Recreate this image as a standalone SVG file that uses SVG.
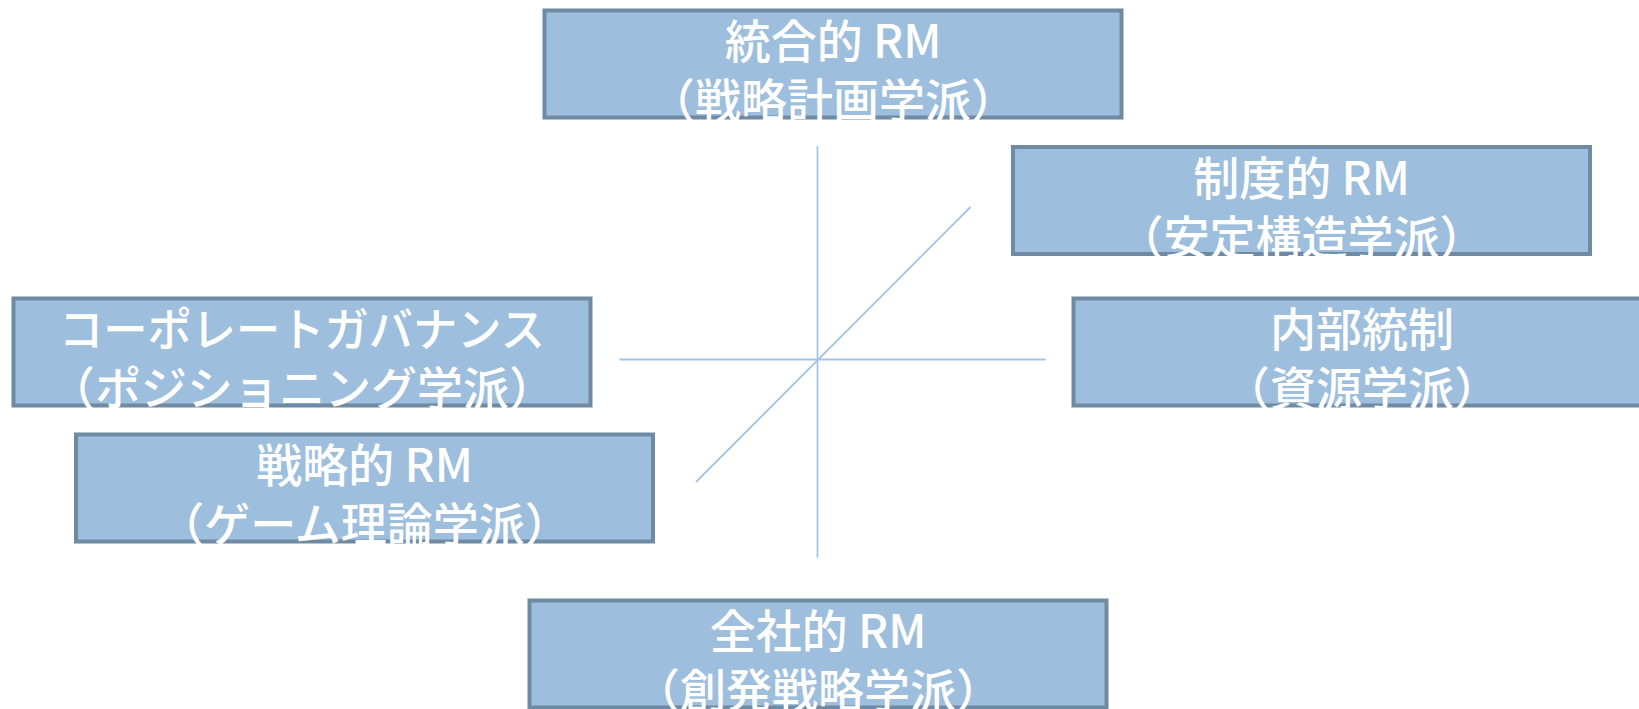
<svg xmlns="http://www.w3.org/2000/svg" width="1639" height="709" viewBox="0 0 1639 709">
<style>
.box{fill:#9dbedc;stroke:#6f8aa3;stroke-width:4}
.t{fill:#ffffff;font-family:"Noto Sans CJK JP","Noto Sans CJK SC",sans-serif;font-size:46px;font-weight:500;text-anchor:middle}
.ln{stroke:#a3c5e5;stroke-width:1.8;fill:none;stroke-linecap:round}
</style>
<rect width="1639" height="709" fill="#ffffff"/>
<g id="connectors">
<line class="ln" x1="817.5" y1="147" x2="817.5" y2="557"/>
<line class="ln" x1="620" y1="359.5" x2="1045" y2="359.5"/>
<line class="ln" x1="970" y1="207.5" x2="696.5" y2="481.5"/>
</g>
<g id="node-integrated">
<rect class="box" x="544.5" y="10.5" width="577" height="107"/>
<text class="t" x="833" y="58">統合的 RM</text>
<text class="t" x="833" y="117">（戦略計画学派）</text>
</g>
<g id="node-institutional">
<rect class="box" x="1013" y="147" width="577" height="107"/>
<text class="t" x="1301.5" y="194.5">制度的 RM</text>
<text class="t" x="1301.5" y="253.5">（安定構造学派）</text>
</g>
<g id="node-internal-control">
<rect class="box" x="1073.5" y="298.5" width="577" height="107"/>
<text class="t" x="1362" y="346">内部統制</text>
<text class="t" x="1362" y="405">（資源学派）</text>
</g>
<g id="node-governance">
<rect class="box" x="13.5" y="298.5" width="577" height="107"/>
<text class="t" x="302" y="346" textLength="486" lengthAdjust="spacingAndGlyphs">コーポレートガバナンス</text>
<text class="t" x="302" y="405">（ポジショニング学派）</text>
</g>
<g id="node-strategic">
<rect class="box" x="76" y="434.5" width="577" height="107"/>
<text class="t" x="364.5" y="482">戦略的 RM</text>
<text class="t" x="364.5" y="541">（ゲーム理論学派）</text>
</g>
<g id="node-enterprise">
<rect class="box" x="529.5" y="600.5" width="577" height="107"/>
<text class="t" x="818" y="648">全社的 RM</text>
<text class="t" x="818" y="707">（創発戦略学派）</text>
</g>
</svg>
